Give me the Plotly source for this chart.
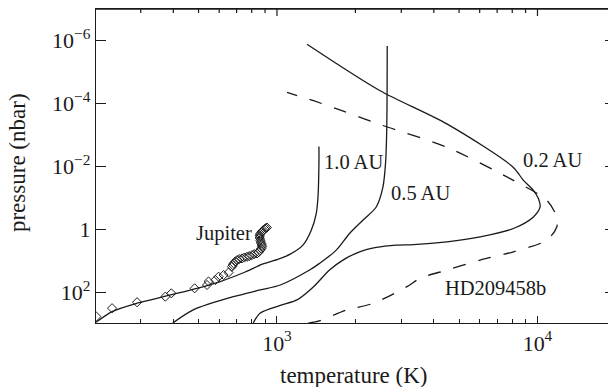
import numpy as np
import plotly.graph_objects as go

# ---- data (temperature in K, pressure in nbar) ----
T_10AU = [202, 233, 290, 390, 493, 606, 755, 879, 1012, 1125, 1258, 1354, 1415, 1437, 1449, 1449]
P_10AU = [900, 410, 223, 122, 74.8, 45.6, 22.8, 12.8, 8.87, 6.17, 3.2, 1.08, 0.319, 0.0954, 0.0084, 0.002385]

T_05AU = [398, 477, 680, 863, 1030, 1334, 1457, 1689, 1899, 2137, 2404, 2551, 2610, 2638, 2650]
P_05AU = [950, 362, 138, 84.6, 58.8, 19.7, 12.1, 4.61, 1.37, 0.519, 0.197, 0.0461, 0.0084, 7.45e-4, 1.53e-6]

T_02AU = [811, 863, 1030, 1193, 1382, 1591, 1791, 2075, 2404, 2868, 3342, 4488, 6025, 8084,
          9645, 10233, 10082, 9645, 8831, 8063, 4488, 2489, 1304]
P_02AU = [933, 451, 261, 175, 66.5, 19.7, 9.54, 5.21, 3.79, 3.2, 3.09, 2.52, 1.75, 0.95,
          0.409, 0.197, 0.107, 0.0586, 0.0283, 0.01075, 4.57e-4, 4.06e-5, 1.36e-6]

T_HD = [1319, 1466, 1856, 2348, 3153, 3546, 4488, 6025, 8084, 10857, 11858, 11858, 10857,
        8084, 4488, 2489, 1775, 1382, 1093]
P_HD = [953, 789, 362, 223, 66.5, 36.1, 19.7, 9.54, 5.21, 2.23, 0.846, 0.409, 0.121,
        0.0283, 0.00251, 4.81e-4, 1.74e-4, 8.4e-5, 4.59e-5]

T_JUP = [202.7, 232.8, 290.4, 372.8, 393, 483, 539, 546, 580, 597, 624, 652, 672, 677, 682,
         692, 703, 717, 734, 749, 767, 783, 802, 818, 838, 851, 863, 871, 876, 875, 871, 867,
         863, 859, 858, 859, 863, 871, 878, 886, 897, 906, 915]
P_JUP = [590, 320, 207, 138, 108, 74.8, 58.8, 45.6, 40.9, 32.1, 28.4, 23.7, 15.5, 13.7, 12.1,
         10.6, 9.54, 8.87, 8.43, 7.95, 7.5, 7.13, 6.63, 6.17, 5.86, 5.33, 4.61, 4.13, 3.62, 3.2,
         2.87, 2.54, 2.23, 1.92, 1.73, 1.55, 1.39, 1.24, 1.16, 1.08, 1.0, 0.93, 0.884]

X_TICKS = [1e3, 1e4]
X_TICKTEXT = ["10<sup>3</sup>", "10<sup>4</sup>"]
X_MINOR = [300, 400, 500, 600, 700, 800, 900, 2000, 3000, 4000, 5000, 6000, 7000, 8000, 9000]
Y_TICKS = [1e-6, 1e-4, 1e-2, 1, 1e2]
Y_TICKTEXT = ["10<sup>\u22126</sup>", "10<sup>\u22124</sup>", "10<sup>\u22122</sup>", "1", "10<sup>2</sup>"]

LABELS = ["1.0 AU", "0.5 AU", "0.2 AU", "HD209458b", "Jupiter"]
LABEL_T = [1490, 2700, 8650, 4330, 482]
LABEL_P = [0.00747, 0.0729, 0.0066, 73.1, 1.34]

X_TITLE = "temperature (K)"
Y_TITLE = "pressure (nbar)"

FONT = "Liberation Serif"
BLACK = "#1a1a1a"
X_RANGE = [np.log10(202), np.log10(18650)]
Y_RANGE = [2.975, -6.985]
PLOT_H = 387 - 9 - 64

fig = go.Figure()
line_style = dict(color=BLACK, width=1.3, shape="spline", smoothing=0.8)
for T, P in [(T_10AU, P_10AU), (T_05AU, P_05AU), (T_02AU, P_02AU)]:
    fig.add_trace(go.Scatter(x=T, y=P, mode="lines", line=line_style,
                             showlegend=False, hoverinfo="skip"))
fig.add_trace(go.Scatter(x=T_HD, y=P_HD, mode="lines",
                         line=dict(color=BLACK, width=1.3, shape="spline", smoothing=0.8,
                                   dash="13px,13px"),
                         showlegend=False, hoverinfo="skip"))
fig.add_trace(go.Scatter(x=T_JUP, y=P_JUP, mode="markers",
                         marker=dict(symbol="diamond-open", size=7, color=BLACK,
                                     line=dict(width=1.0, color=BLACK)),
                         showlegend=False, hoverinfo="skip"))
# invisible trace so that the right (y2) frame axis with its tick stubs is drawn
fig.add_trace(go.Scatter(x=T_JUP[:1], y=P_JUP[:1], xaxis="x", yaxis="y2", mode="markers",
                         marker=dict(opacity=0), showlegend=False, hoverinfo="skip"))

for txt, t, p in zip(LABELS, LABEL_T, LABEL_P):
    fig.add_annotation(x=np.log10(t), y=np.log10(p), xref="x", yref="y", text=txt,
                       showarrow=False, xanchor="left", yanchor="middle",
                       font=dict(family=FONT, size=20.5, color=BLACK))

# axis titles
fig.add_annotation(x=0.504, y=-0.168, xref="paper", yref="paper", text=X_TITLE,
                   showarrow=False, xanchor="center", yanchor="middle",
                   font=dict(family=FONT, size=23, color=BLACK))
fig.add_annotation(x=-0.152, y=0.51, xref="paper", yref="paper", text=Y_TITLE,
                   showarrow=False, xanchor="center", yanchor="middle", textangle=-90,
                   font=dict(family=FONT, size=23, color=BLACK))

# top frame line with its inward ticks
fig.add_shape(type="line", xref="paper", yref="paper", x0=0, x1=1, y0=1, y1=1,
              line=dict(color=BLACK, width=1.4), layer="above")
for xv in X_MINOR:
    fig.add_shape(type="line", xref="x", yref="paper", x0=xv, x1=xv, y0=1, y1=1 - 4 / PLOT_H,
                  line=dict(color=BLACK, width=1.2), layer="above")
for xv in X_TICKS:
    fig.add_shape(type="line", xref="x", yref="paper", x0=xv, x1=xv, y0=1, y1=1 - 7 / PLOT_H,
                  line=dict(color=BLACK, width=1.2), layer="above")

common = dict(tickcolor=BLACK, tickwidth=1.2, linecolor=BLACK, linewidth=1.2,
              showgrid=False, zeroline=False, automargin=False)

fig.update_layout(
    width=608, height=387,
    margin=dict(l=96, r=0, t=9, b=64, autoexpand=False),
    paper_bgcolor="white", plot_bgcolor="white",
    font=dict(family=FONT, color=BLACK),
    xaxis=dict(type="log", range=X_RANGE, tickvals=X_TICKS, ticktext=X_TICKTEXT,
               ticks="inside", ticklen=7, showline=True, mirror=True,
               tickfont=dict(family=FONT, size=22, color=BLACK),
               minor=dict(tickvals=X_MINOR, ticks="inside", ticklen=4, tickwidth=1.2,
                          tickcolor=BLACK, showgrid=False), **common),
    yaxis=dict(type="log", range=Y_RANGE, tickvals=Y_TICKS, ticktext=Y_TICKTEXT,
               ticks="inside", ticklen=10, showline=True,
               tickfont=dict(family=FONT, size=22, color=BLACK), **common),
    yaxis2=dict(type="log", range=Y_RANGE, overlaying="y", side="right", anchor="x",
                tickvals=Y_TICKS, ticks="inside", ticklen=3, showline=False,
                showticklabels=False, **common),
)

fig.write_html("out.html", config={"displayModeBar": False},
               post_script="document.body.style.margin='0px';")
